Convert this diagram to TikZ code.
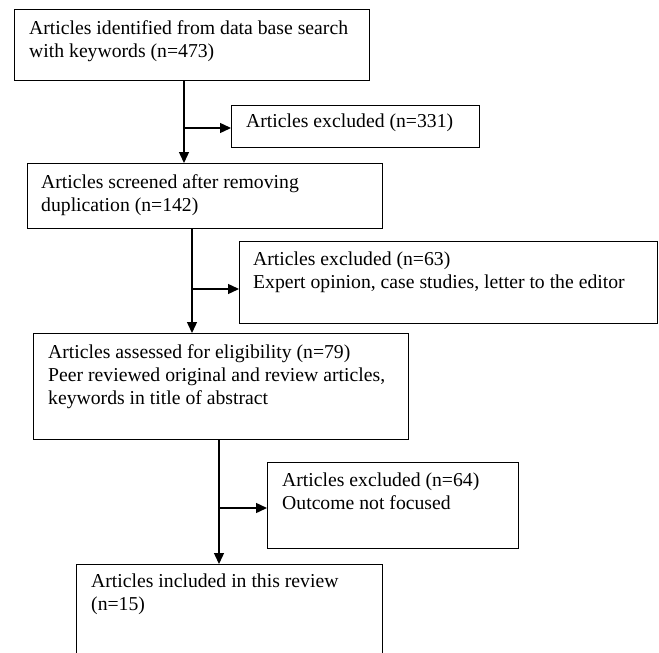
\documentclass[tikz,border=0pt]{standalone}
\usepackage{fontspec}
\setmainfont{Liberation Serif}
\usetikzlibrary{arrows.meta}
\tikzset{
  box/.style={draw, line width=1.4pt, anchor=north west, inner sep=0pt},
  txt/.style={anchor=north west, align=left, inner sep=0pt, font=\fontsize{19.7}{23}\selectfont},
  flow/.style={line width=1.4pt, -{Triangle[length=11pt,width=10pt]}},
}
\begin{document}
\begin{tikzpicture}[x=1pt, y=-1pt]
\useasboundingbox (0,0) rectangle (659,653);

% Identification
\node[box, minimum width=355pt, minimum height=71pt] (ident) at (14,9) {};
\node[txt] (identtxt) at ([shift={(15pt,-11pt)}]ident.north west) {Articles identified from data base search\\with keywords (n=473)};

% Premiere exclusion
\node[box, minimum width=248pt, minimum height=42pt] (excla) at (231,105) {};
\node[txt] (exclatxt) at ([shift={(15pt,-9pt)}]excla.north west) {Articles excluded (n=331)};

% Screening
\node[box, minimum width=355pt, minimum height=65pt] (screen) at (27,163) {};
\node[txt] (screentxt) at ([shift={(14pt,-11pt)}]screen.north west) {Articles screened after removing\\duplication (n=142)};

% Deuxieme exclusion
\node[box, minimum width=418pt, minimum height=82pt] (exclb) at (239,241) {};
\node[txt] (exclbtxt) at ([shift={(14pt,-11pt)}]exclb.north west) {Articles excluded (n=63)\\Expert opinion, case studies, letter to the editor};

% Eligibility
\node[box, minimum width=375pt, minimum height=106pt] (elig) at (33,333) {};
\node[txt] (eligtxt) at ([shift={(15pt,-11pt)}]elig.north west) {Articles assessed for eligibility (n=79)\\Peer reviewed original and review articles,\\keywords in title of abstract};

% Troisieme exclusion
\node[box, minimum width=251pt, minimum height=86pt] (exclc) at (267,462) {};
\node[txt] (exclctxt) at ([shift={(15pt,-11pt)}]exclc.north west) {Articles excluded (n=64)\\Outcome not focused};

% Included
\node[box, minimum width=306pt, minimum height=95pt] (incl) at (76,564) {};
\node[txt] (incltxt) at ([shift={(15pt,-10pt)}]incl.north west) {Articles included in this review\\(n=15)};

% Fleches
\coordinate (splita) at (184,128);
\coordinate (splitb) at (192,289);
\coordinate (splitc) at (219,508);
\draw[flow] (ident.south -| splita) -- (screen.north -| splita);
\draw[flow] (splita) -- (excla.west |- splita);
\draw[flow] (screen.south -| splitb) -- (elig.north -| splitb);
\draw[flow] (splitb) -- (exclb.west |- splitb);
\draw[flow] (elig.south -| splitc) -- (incl.north -| splitc);
\draw[flow] (splitc) -- (exclc.west |- splitc);

\end{tikzpicture}
\end{document}
